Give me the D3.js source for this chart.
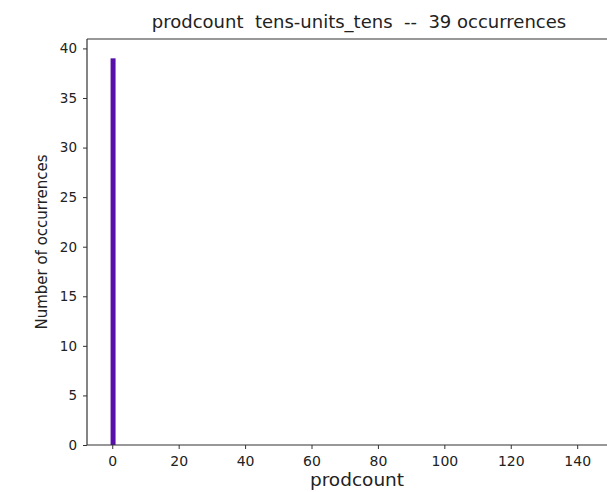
<!DOCTYPE html>
<html>
<head>
<meta charset="utf-8">
<script src="https://cdn.jsdelivr.net/npm/d3@7"></script>
<style>
  body { margin: 0; background: #fff; }
  svg text { font-family: "DejaVu Sans", sans-serif; fill: #222; white-space: pre; }
  .axis path, .axis line { stroke: #333; }
</style>
</head>
<body>
<div class="chart"></div>
<script>
// histogram bins (edges) and counts
const binStarts = [-0.5];
const binEnds = [1.0];
const counts = [39];
const xTicks = [0, 20, 40, 60, 80, 100, 120, 140];
const yTicks = [0, 5, 10, 15, 20, 25, 30, 35, 40];
const titleText = "prodcount  tens-units_tens  --  39 occurrences";

const W = 607, H = 492;
const margin = { top: 39, left: 87, bottom: 47 };
const plotRight = 627; // axes continue past the picture edge

const svg = d3.select('.chart').append('svg')
  .attr('width', W).attr('height', H);

const x = d3.scaleLinear().domain([-7.6, 155]).range([margin.left, plotRight]);
const y = d3.scaleLinear().domain([0, 40.95]).range([H - margin.bottom, margin.top]);

// bars
svg.selectAll('.bar')
  .data(counts)
  .enter().append('rect')
  .attr('class', 'bar')
  .attr('x', (d, i) => x(binStarts[i]))
  .attr('width', (d, i) => x(binEnds[i]) - x(binStarts[i]))
  .attr('y', d => y(d))
  .attr('height', d => y(0) - y(d))
  .attr('fill', '#5810aa');

// top spine
svg.append('line').attr('x1', x.range()[0]).attr('x2', x.range()[1])
  .attr('y1', margin.top).attr('y2', margin.top)
  .attr('stroke', '#333').attr('stroke-width', 1.2);

const xAxis = d3.axisBottom(x).tickValues(xTicks).tickSize(4).tickPadding(7).tickFormat(d3.format('d'));
const yAxis = d3.axisLeft(y).tickValues(yTicks).tickSize(4).tickPadding(6).tickFormat(d3.format('d'));

svg.append('g').attr('class', 'x axis')
  .attr('transform', 'translate(0,' + (H - margin.bottom) + ')')
  .call(xAxis)
  .call(g => g.select('.domain').attr('d', 'M' + x.range()[0] + ',0H' + x.range()[1]).attr('stroke-width', 1.2))
  .selectAll('text').attr('font-size', 14).attr('fill', '#222');

svg.append('g').attr('class', 'y axis')
  .attr('transform', 'translate(' + margin.left + ',0)')
  .call(yAxis)
  .call(g => g.select('.domain').attr('d', 'M0,' + y.range()[0] + 'V' + y.range()[1]).attr('stroke-width', 1.2))
  .selectAll('text').attr('font-size', 13.5).attr('fill', '#222');

// title and labels
svg.append('text')
  .attr('x', 359).attr('y', 28)
  .attr('text-anchor', 'middle').attr('font-size', 18)
  .text(titleText);

svg.append('text')
  .attr('x', 357).attr('y', 486)
  .attr('text-anchor', 'middle').attr('font-size', 18.5)
  .text('prodcount');

svg.append('text')
  .attr('transform', 'translate(47,' + ((y.range()[0] + y.range()[1]) / 2) + ') rotate(-90)')
  .attr('text-anchor', 'middle').attr('font-size', 15)
  .text('Number of occurrences');
</script>
</body>
</html>
